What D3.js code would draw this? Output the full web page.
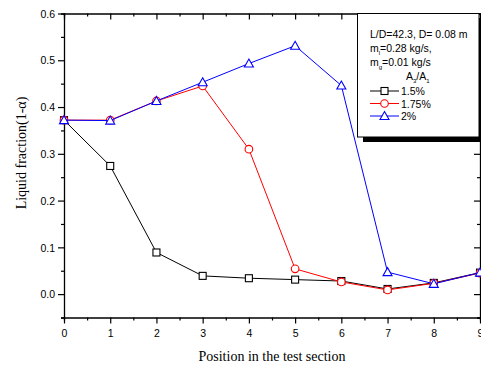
<!DOCTYPE html>
<html><head><meta charset="utf-8">
<script src="https://cdn.jsdelivr.net/npm/d3@7"></script>
<style>body{margin:0;background:#fff}svg{display:block}</style>
</head><body>
<svg id="c" width="481" height="370"></svg>
<script>
const positions = [0,1,2,3,4,5,6,7,8,9];
const s15 = [0.372,0.274,0.089,0.039,0.034,0.031,0.028,0.011,0.024,0.046];
const s175 = [0.372,0.372,0.413,0.445,0.310,0.054,0.026,0.009,0.023,0.045];
const s2 = [0.372,0.371,0.413,0.453,0.493,0.531,0.446,0.047,0.022,0.046];
const seriesNames = ["1.5%","1.75%","2%"];
const seriesColors = ["#000000","#ff0000","#0000ff"];
const seriesShapes = ["square","circle","triangle"];
const xTicks = [0,1,2,3,4,5,6,7,8,9];
const yTicks = [0.0,0.1,0.2,0.3,0.4,0.5,0.6];

const svg = d3.select("#c");
const L=64, R=480, T=13.5, B=317.5;
const x = d3.scaleLinear().domain([0,9]).range([L,R]);
const y = d3.scaleLinear().domain([-0.05,0.6]).range([B,T]);
const font = "'Liberation Sans', Arial, sans-serif";
const serif = "'Liberation Serif', 'Times New Roman', serif";

const xMinor = d3.range(0,9.01,0.5);
const yMinor = d3.range(-0.05,0.601,0.05);

// bottom axis
const gb = svg.append("g").attr("transform",`translate(0,${B})`);
gb.call(d3.axisBottom(x).tickValues(xMinor).tickSize(3).tickFormat(""));
gb.call(g=>g.selectAll(".tick").filter(d=>Math.abs(d-Math.round(d))<1e-6).select("line").attr("y2",6));
gb.selectAll(".tick").filter(d=>Math.abs(d-Math.round(d))<1e-6).append("text")
  .attr("y",19).attr("fill","#000").attr("text-anchor","middle").style("font-family",font).style("font-size","10.5px")
  .text(d=>d3.format("d")(d));
// left axis
const gl = svg.append("g").attr("transform",`translate(${L},0)`);
gl.call(d3.axisLeft(y).tickValues(yMinor).tickSize(3).tickFormat(""));
const isMajY = d=>yTicks.some(t=>Math.abs(t-d)<1e-6);
gl.selectAll(".tick").filter(isMajY).select("line").attr("x2",-6);
gl.selectAll(".tick").filter(isMajY).append("text")
  .attr("x",-9).attr("dy","0.35em").attr("fill","#000").attr("text-anchor","end").style("font-family",font).style("font-size","10.5px")
  .text(d=>d3.format(".1f")(d));
// top axis (inward ticks)
const gt = svg.append("g").attr("transform",`translate(0,${T})`);
gt.call(d3.axisBottom(x).tickValues(xMinor).tickSize(3).tickFormat(""));
gt.selectAll(".tick").filter(d=>Math.abs(d-Math.round(d))<1e-6).select("line").attr("y2",6);
// right axis (inward ticks)
const gr = svg.append("g").attr("transform",`translate(${R},0)`);
gr.call(d3.axisLeft(y).tickValues(yMinor).tickSize(3).tickFormat(""));
gr.selectAll(".tick").filter(isMajY).select("line").attr("x2",-6);
svg.selectAll(".domain").attr("stroke","#000").attr("stroke-width",1.3);
svg.selectAll(".tick line").attr("stroke","#000").attr("stroke-width",1.2);

// series
const allSeries = [s15,s175,s2];
function drawMarker(g, shape, color, cx, cy){
  if(shape==="square") g.append("rect").attr("x",cx-3.5).attr("y",cy-3.5).attr("width",7).attr("height",7).attr("fill","#fff").attr("stroke",color).attr("stroke-width",1.1);
  else if(shape==="circle") g.append("circle").attr("cx",cx).attr("cy",cy).attr("r",3.8).attr("fill","#fff").attr("stroke",color).attr("stroke-width",1.1);
  else g.append("path").attr("d",`M${cx},${cy-4.5}L${cx+4.5},${cy+3.5}L${cx-4.5},${cy+3.5}Z`).attr("fill","#fff").attr("stroke",color).attr("stroke-width",1.1);
}
const line = d3.line().x((d,i)=>x(positions[i])).y(d=>y(d));
allSeries.forEach((vals,k)=>{
  const g = svg.append("g");
  g.append("path").datum(vals).attr("d",line).attr("fill","none").attr("stroke",seriesColors[k]).attr("stroke-width",1);
  vals.forEach((v,i)=>drawMarker(g,seriesShapes[k],seriesColors[k],x(positions[i]),y(v)));
});

// legend
const lg = svg.append("g");
lg.append("rect").attr("x",363).attr("y",18).attr("width",125).attr("height",124).attr("fill","#000");
lg.append("rect").attr("x",357.5).attr("y",13.5).attr("width",121.5).attr("height",123.5).attr("fill","#fff").attr("stroke","#000").attr("stroke-width",1);
const tf = (sel)=>sel.attr("fill","#000").style("font-family",font).style("font-size","10.5px");
tf(lg.append("text").attr("x",370).attr("y",38)).text("L/D=42.3, D= 0.08 m");
const t2 = tf(lg.append("text").attr("x",370).attr("y",52));
t2.append("tspan").text("m");
t2.append("tspan").attr("dy",3).style("font-size","6px").text("l");
t2.append("tspan").attr("dy",-3).text("=0.28 kg/s,");
const t3 = tf(lg.append("text").attr("x",370).attr("y",66));
t3.append("tspan").text("m");
t3.append("tspan").attr("dy",3).style("font-size","6px").text("g");
t3.append("tspan").attr("dy",-3).text("=0.01 kg/s");
const t4 = tf(lg.append("text").attr("x",406).attr("y",80));
t4.append("tspan").text("A");
t4.append("tspan").attr("dy",3).style("font-size","6px").text("3");
t4.append("tspan").attr("dy",-3).text("/A");
t4.append("tspan").attr("dy",3).style("font-size","6px").text("1");
seriesNames.forEach((n,k)=>{
  const yy = 91 + k*12.5;
  lg.append("line").attr("x1",370).attr("x2",399).attr("y1",yy).attr("y2",yy).attr("stroke",seriesColors[k]).attr("stroke-width",1);
  drawMarker(lg,seriesShapes[k],seriesColors[k],384.5,yy);
  tf(lg.append("text").attr("x",401).attr("y",yy+4)).text(n);
});

// axis titles
svg.append("text").attr("x",272).attr("y",361).attr("text-anchor","middle").attr("fill","#000")
  .style("font-family",serif).style("font-size","14px").text("Position in the test section");
svg.append("text").attr("transform","translate(26,153) rotate(-90)").attr("text-anchor","middle").attr("fill","#000")
  .style("font-family",serif).style("font-size","14px").text("Liquid fraction(1-α)");
</script>
</body></html>
